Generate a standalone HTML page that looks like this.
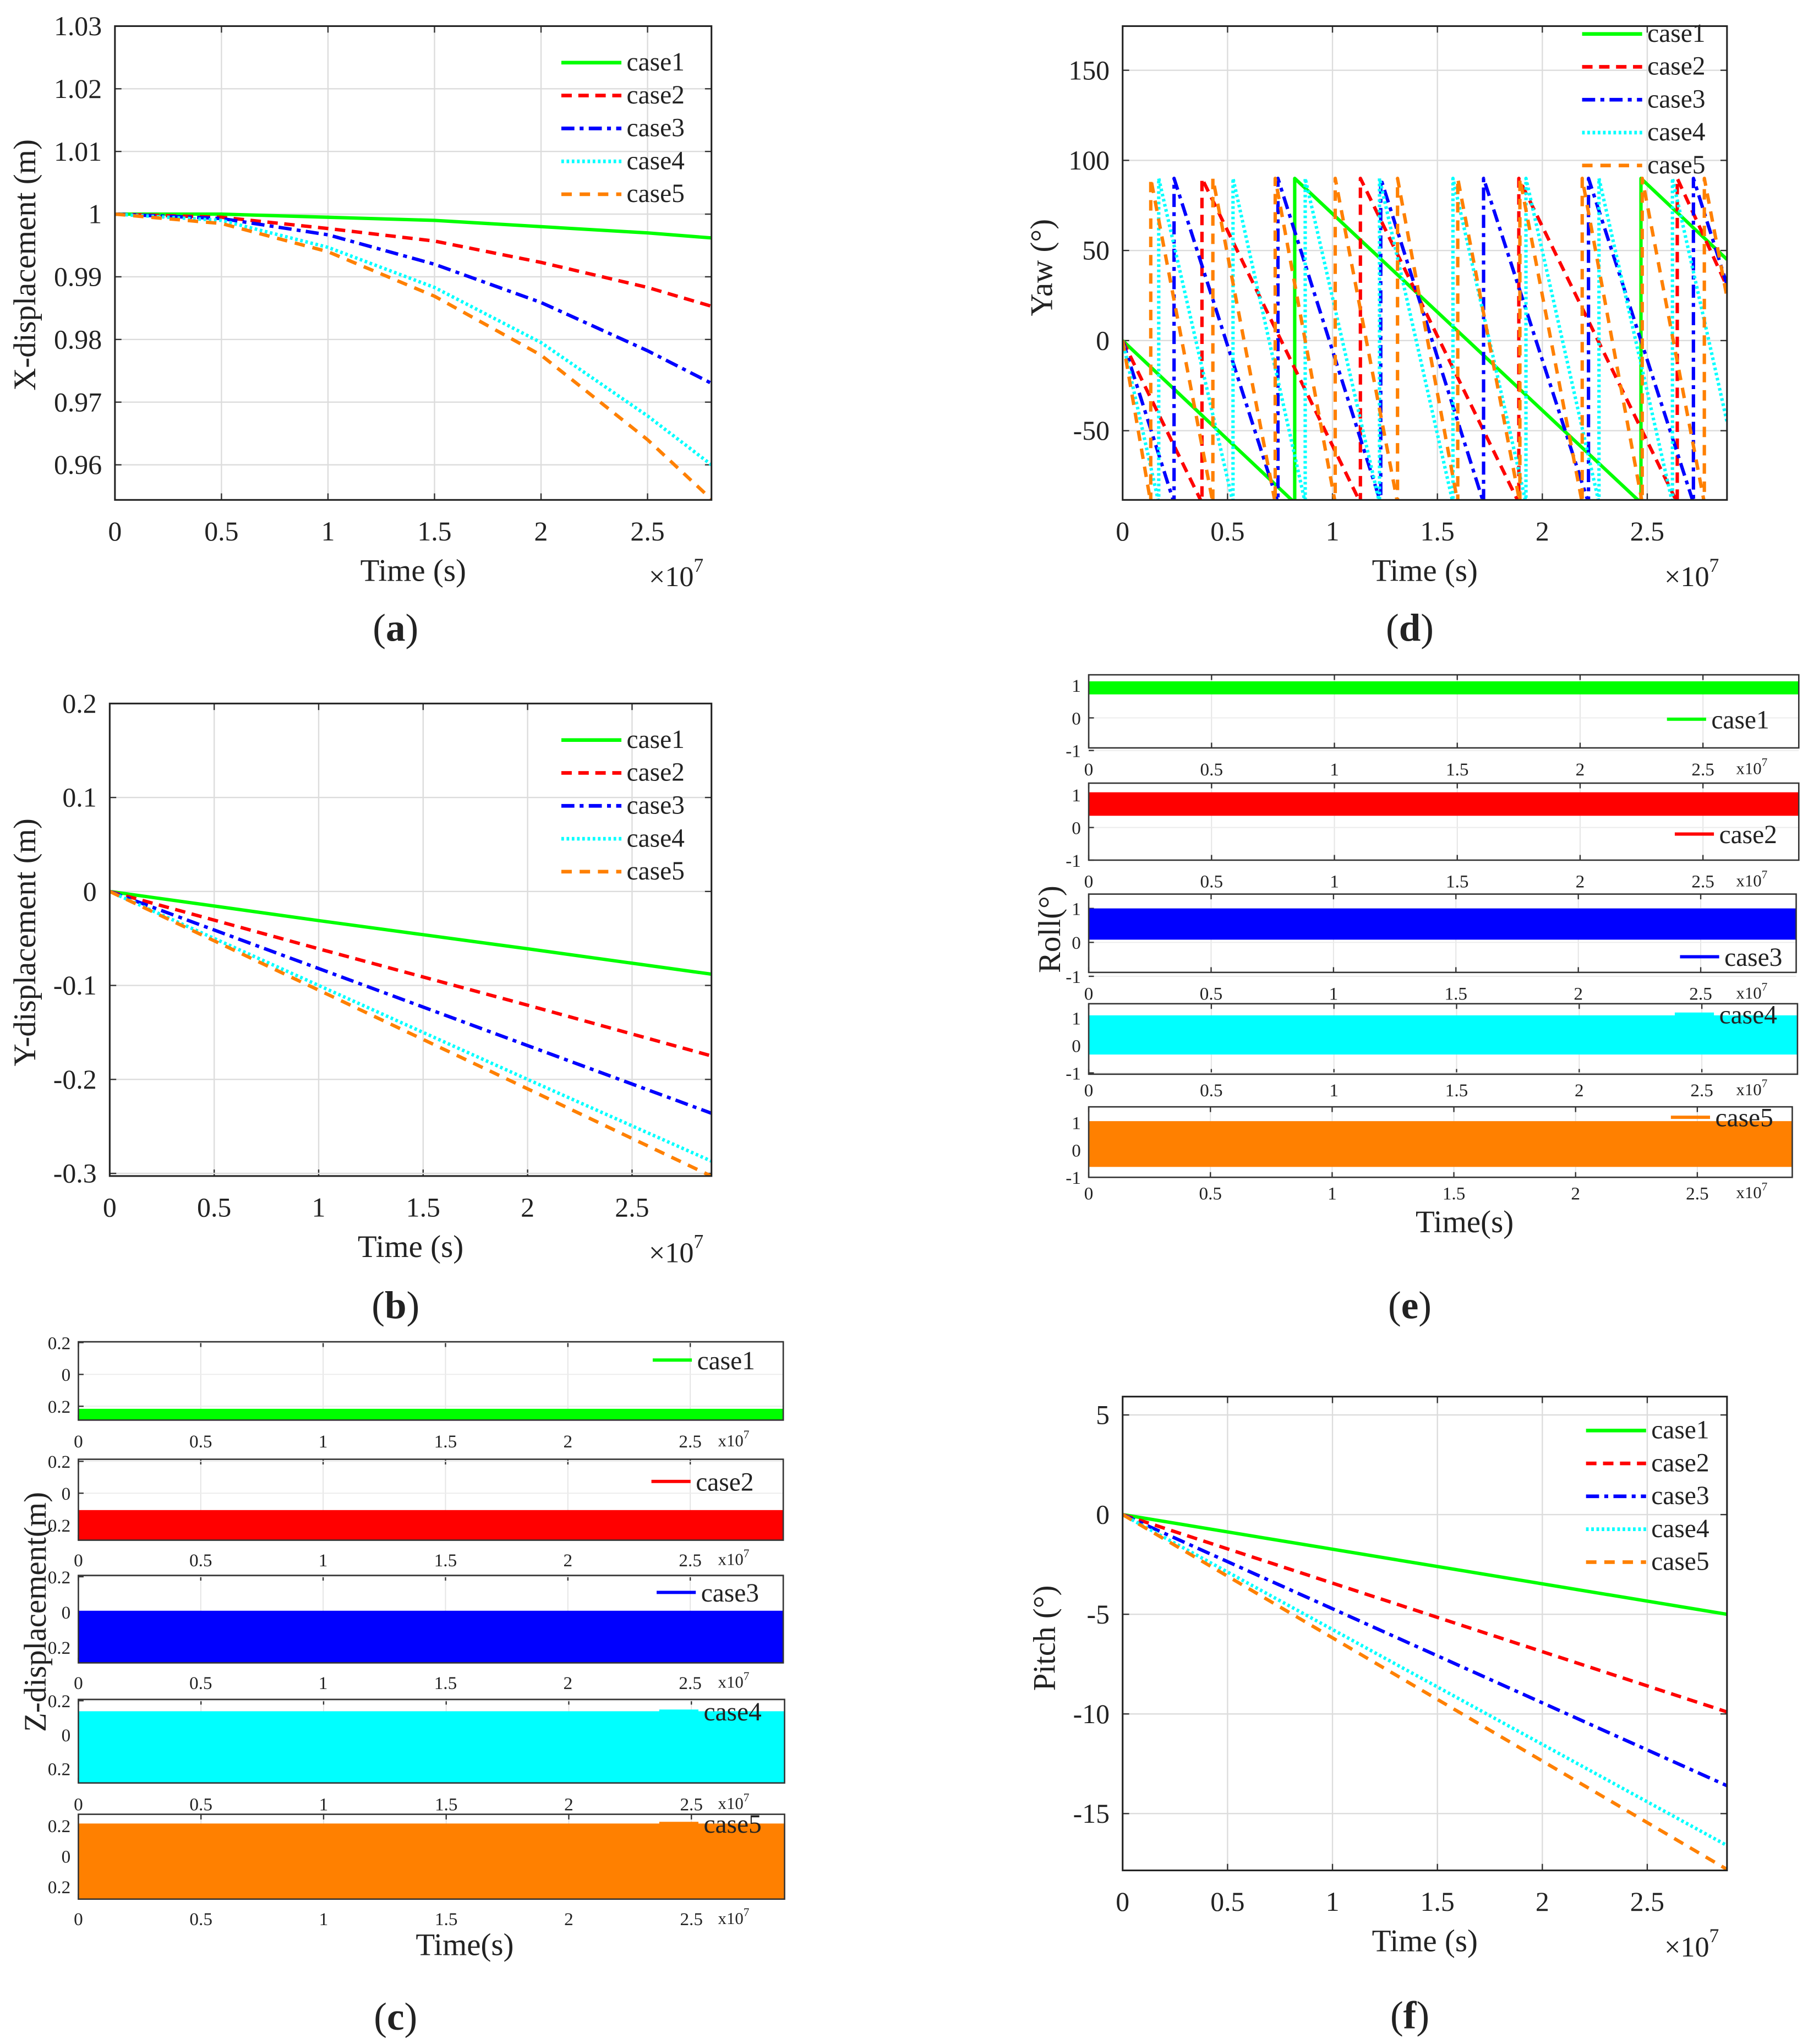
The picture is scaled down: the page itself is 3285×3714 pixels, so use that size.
<!DOCTYPE html>
<html><head><meta charset="utf-8">
<style>
html,body{margin:0;padding:0;background:#fff;}
svg{display:block;font-family:"Liberation Serif","DejaVu Serif",serif;}
text{font-family:"Liberation Serif","DejaVu Serif",serif;fill:#222;}
</style></head>
<body>
<svg id="fig" xmlns="http://www.w3.org/2000/svg" width="3285" height="3714" viewBox="0 0 1385 1566" font-family="Liberation Serif, DejaVu Serif, serif"></svg>
<script>
// ---------- data ----------
const caseNames = ["case1","case2","case3","case4","case5"];
const colors = ["#00ff00","#ff0000","#0000ff","#00ffff","#ff8000"];
const dashes = ["", "8,5", "10,4,3,4", "2,2", "8,6"];
const xTicks = [0,0.5,1,1.5,2,2.5];
const xTickLabels = ["0","0.5","1","1.5","2","2.5"];
// (a) X-displacement
const tA = [0,0.5,1,1.5,2,2.5,2.8];
const xA1 = [1,1,0.9995,0.999,0.998,0.997,0.9962];
const xA2 = [1,0.9995,0.9977,0.9957,0.9923,0.9883,0.9853];
const xA3 = [1,0.9993,0.9967,0.992,0.9859,0.9782,0.973];
const xA4 = [1,0.999,0.9947,0.9883,0.9795,0.9678,0.960];
const xA5 = [1,0.9985,0.994,0.9869,0.9775,0.964,0.9545];
const yTicksA = [1.03,1.02,1.01,1,0.99,0.98,0.97,0.96];
const yTickLabelsA = ["1.03","1.02","1.01","1","0.99","0.98","0.97","0.96"];
// (b) Y-displacement
const tB = [0,1,2,2.88];
const yB1 = [0,-0.031,-0.061,-0.088];
const yB2 = [0,-0.061,-0.121,-0.175];
const yB3 = [0,-0.082,-0.164,-0.236];
const yB4 = [0,-0.100,-0.200,-0.287];
const yB5 = [0,-0.105,-0.210,-0.303];
const yTicksB = [0.2,0.1,0,-0.1,-0.2,-0.3];
const yTickLabelsB = ["0.2","0.1","0","-0.1","-0.2","-0.3"];
// (d) Yaw: reset times (wrap from -90 to 90) and final value
const yawJumps1 = [0.82,2.47];
const yawJumps2 = [0.378,1.133,1.888,2.643];
const yawJumps3 = [0.245,0.74,1.23,1.72,2.22,2.72];
const yawJumps4 = [0.172,0.526,0.870,1.224,1.574,1.922,2.270,2.62];
const yawJumps5 = [0.134,0.430,0.727,1.013,1.310,1.597,1.893,2.19,2.476,2.772];
const yawEnd = [45,30,31,-45,24];
const yTicksD = [150,100,50,0,-50];
const yTickLabelsD = ["150","100","50","0","-50"];
// (f) Pitch
const tF = [0,2.88];
const pF1 = [0,-5.0];
const pF2 = [0,-9.9];
const pF3 = [0,-13.6];
const pF4 = [0,-16.6];
const pF5 = [0,-17.8];
const yTicksF = [5,0,-5,-10,-15];
const yTickLabelsF = ["5","0","-5","-10","-15"];
// (e) Roll bands [low, high]
const rollLow = [0.72,0.36,0.08,-0.33,-0.62];
const rollHigh = [1.12,1.08,1.0,1.1,1.05];
// (c) Z bands
const zLow = [-0.30,-0.294,-0.29,-0.285,-0.28];
const zHigh = [-0.216,-0.106,0.007,0.138,0.213];

// ---------- helpers ----------
const NS="http://www.w3.org/2000/svg";
const svg=document.getElementById('fig');
function mk(tag,attrs,parent){const e=document.createElementNS(NS,tag);for(const k in attrs)e.setAttribute(k,attrs[k]);(parent||svg).appendChild(e);return e;}
function txt(s,x,y,size,anchor,parent,extra){const e=mk('text',Object.assign({x:x,y:y,'font-size':size,'text-anchor':anchor||'middle','font-family':'Liberation Serif, DejaVu Serif, serif'},extra||{}),parent);e.textContent=s;return e;}
let clipId=0;

function axesPlot(P){
  const g=mk('g',{});
  
  
  const sx=v=>P.x0+(v-0)/(P.xmax)*(P.x1-P.x0);
  const sy=v=>P.y1-(v-P.ymin)/(P.ymax-P.ymin)*(P.y1-P.y0);
  const id='c'+(clipId++);
  const cp=mk('clipPath',{id:id},g);mk('rect',{x:P.x0,y:P.y0,width:P.x1-P.x0,height:P.y1-P.y0},cp);
  mk('rect',{x:P.x0,y:P.y0,width:P.x1-P.x0,height:P.y1-P.y0,fill:'#fff'},g);
  xTicks.forEach((t,i)=>{
    const gl=mk('line',{x1:sx(t),x2:sx(t),y1:P.y0,y2:P.y1,stroke:'#dcdcdc','stroke-width':1},g);
    
    
    mk('line',{x1:sx(t),x2:sx(t),y1:P.y1,y2:P.y1-5,stroke:'#333','stroke-width':1},g);
    mk('line',{x1:sx(t),x2:sx(t),y1:P.y0,y2:P.y0+5,stroke:'#333','stroke-width':1},g);
    const tl=txt(xTickLabels[i],sx(t),P.y1+31,21,'middle',g);
    
    
  });
  P.yticks.forEach((v,i)=>{
    const gl=mk('line',{x1:P.x0,x2:P.x1,y1:sy(v),y2:sy(v),stroke:'#dcdcdc','stroke-width':1},g);
    
    
    mk('line',{x1:P.x0,x2:P.x0+5,y1:sy(v),y2:sy(v),stroke:'#333','stroke-width':1},g);
    mk('line',{x1:P.x1,x2:P.x1-5,y1:sy(v),y2:sy(v),stroke:'#333','stroke-width':1},g);
    const tl=txt(P.ylabels[i],P.x0-10,sy(v)+7,21,'end',g);
    
    
  });
  const sg=mk('g',{'clip-path':'url(#'+id+')'},g);
  P.series.forEach((s,k)=>{
    const pts=s.map(p=>sx(p[0]).toFixed(2)+','+sy(p[1]).toFixed(2)).join(' ');
    const pl=mk('polyline',{points:pts,fill:'none',stroke:colors[k],'stroke-width':2.6,'stroke-dasharray':dashes[k],'stroke-linejoin':'round'},sg);
    
    
  });
  const box=mk('rect',{x:P.x0,y:P.y0,width:P.x1-P.x0,height:P.y1-P.y0,fill:'none',stroke:'#222','stroke-width':1.3},g);
  
  
  caseNames.forEach((c,k)=>{
    const y=P.legY+k*25.2;
    const ll=mk('line',{x1:P.legX,x2:P.legX+46,y1:y,y2:y,stroke:colors[k],'stroke-width':2.8,'stroke-dasharray':dashes[k]},g);
    
    
    const lt=txt(c,P.legX+50,y+6,20,'start',g);
    
    
  });
  const xl=txt('Time (s)',(P.x0+P.x1)/2+(P.xlOff||0),P.y1+62,24,'middle',g);
  
  
  const mul=mk('text',{x:P.x1-48,y:P.y1+66,'font-size':22,'font-family':'Liberation Serif, serif'},g);
  mul.textContent='\u00d710';
  const sup=mk('tspan',{dy:-11,'font-size':15},mul);sup.textContent='7';
  
  
  const yl=txt(P.ytitle,0,0,24,'middle',g,{transform:'translate('+P.ytx+','+P.yty+') rotate(-90)'});
  
  
  const pl=mk('text',{x:P.letX,y:P.letY,'font-size':30,'text-anchor':'middle','font-family':'Liberation Serif, serif'},g);
  pl.innerHTML='(<tspan font-weight="bold">'+P.letter+'</tspan>)';
  
  
}
function zip(t,v){return t.map((x,i)=>[x,v[i]]);}
function yawSeries(j,end,xmax){
  const pts=[[0,0],[j[0],-90]];
  for(let i=0;i<j.length;i++){
    pts.push([j[i],90]);
    if(i+1<j.length)pts.push([j[i+1],-90]);else pts.push([xmax,end]);
  }
  return pts;
}

axesPlot({name:'panel-a-x-displacement',x0:88,x1:545,y0:20,y1:383,xmax:2.8,ymin:0.9544,ymax:1.03,
  yticks:yTicksA,ylabels:yTickLabelsA,series:[zip(tA,xA1),zip(tA,xA2),zip(tA,xA3),zip(tA,xA4),zip(tA,xA5)],
  legX:430,legY:48,ytitle:'X-displacement (m)',ytx:27,yty:203,letter:'a',letX:303,letY:491});
axesPlot({name:'panel-b-y-displacement',x0:84,x1:545,y0:539,y1:901,xmax:2.88,ymin:-0.3028,ymax:0.2,
  yticks:yTicksB,ylabels:yTickLabelsB,series:[zip(tB,yB1),zip(tB,yB2),zip(tB,yB3),zip(tB,yB4),zip(tB,yB5)],
  legX:430,legY:567,ytitle:'Y-displacement (m)',ytx:27,yty:722,letter:'b',letX:303,letY:1010});
axesPlot({name:'panel-d-yaw',x0:860,x1:1323,y0:20,y1:383,xmax:2.88,ymin:-88.4,ymax:174.5,
  yticks:yTicksD,ylabels:yTickLabelsD,series:[yawSeries(yawJumps1,yawEnd[0],2.88),yawSeries(yawJumps2,yawEnd[1],2.88),yawSeries(yawJumps3,yawEnd[2],2.88),yawSeries(yawJumps4,yawEnd[3],2.88),yawSeries(yawJumps5,yawEnd[4],2.88)],
  legX:1212,legY:26,ytitle:'Yaw (°)',ytx:806,yty:205,letter:'d',letX:1080,letY:491});
axesPlot({name:'panel-f-pitch',x0:860,x1:1323,y0:1070,y1:1433,xmax:2.88,ymin:-17.85,ymax:5.92,
  yticks:yTicksF,ylabels:yTickLabelsF,series:[zip(tF,pF1),zip(tF,pF2),zip(tF,pF3),zip(tF,pF4),zip(tF,pF5)],
  legX:1215,legY:1096,ytitle:'Pitch (°)',ytx:808,yty:1255,letter:'f',letX:1080,letY:1554});

function stacked(S){
  const g=mk('g',{});
  
  
  S.subs.forEach((b,k)=>{
    const sg=mk('g',{},g);
    
    
    const sx=v=>S.x0+v/S.xmax*(b.x1-S.x0);
    const sy=v=>b.yz-v*b.ppu;
    mk('rect',{x:S.x0,y:b.top,width:b.x1-S.x0,height:b.bot-b.top,fill:'#fff'},sg);
    xTicks.forEach((t,i)=>{
      mk('line',{x1:sx(t),x2:sx(t),y1:b.top,y2:b.bot,stroke:'#e4e4e4','stroke-width':0.8},sg);
      mk('line',{x1:sx(t),x2:sx(t),y1:b.top,y2:b.top+4,stroke:'#333','stroke-width':1},sg);
      mk('line',{x1:sx(t),x2:sx(t),y1:b.bot,y2:b.bot-4,stroke:'#333','stroke-width':1},sg);
      const tl=txt(xTickLabels[i],sx(t),b.lab+5,14,'middle',sg);
      
      
    });
    const mul=mk('text',{x:S.x0+S.mulOff,y:b.lab+4,'font-size':13,'font-family':'Liberation Serif, serif'},sg);
    mul.textContent='x10';const sp=mk('tspan',{dy:-6,'font-size':9},mul);sp.textContent='7';
    
    
    S.yv.forEach((v,i)=>{
      mk('line',{x1:S.x0,x2:b.x1,y1:sy(v),y2:sy(v),stroke:'#ececec','stroke-width':0.8},sg);
      mk('line',{x1:S.x0,x2:S.x0+4,y1:sy(v),y2:sy(v),stroke:'#333','stroke-width':1},sg);
      const tl=txt(S.yl[i],S.x0-6,sy(v)+5,14,'end',sg);
      
      
    });
    const lo=Math.min(b.bot,sy(S.low[k])),hi=Math.max(b.top,sy(S.high[k]));
    const band=mk('rect',{x:S.x0,y:hi,width:b.x1-S.x0,height:lo-hi,fill:colors[k]},sg);
    
    
    const box=mk('rect',{x:S.x0,y:b.top,width:b.x1-S.x0,height:b.bot-b.top,fill:'none',stroke:'#333','stroke-width':1.1},sg);
    
    
    const ll=mk('line',{x1:b.lx,x2:b.lx+30,y1:b.ly,y2:b.ly,stroke:colors[k],'stroke-width':2.5},sg);
    
    
    const lt=txt(caseNames[k],b.lx+34,b.ly+7,20,'start',sg);
    
    
  });
  const xl=txt('Time(s)',S.tx,S.ty,24,'middle',g);
  
  
  const yl=txt(S.ytitle,0,0,24,'middle',g,{transform:'translate('+S.ytx+','+S.yty+') rotate(-90)'});
  
  
  const pl=mk('text',{x:S.letX,y:S.letY,'font-size':30,'text-anchor':'middle','font-family':'Liberation Serif, serif'},g);
  pl.innerHTML='(<tspan font-weight="bold">'+S.letter+'</tspan>)';
  
  
}
stacked({name:'panel-e-roll',x0:834,xmax:2.89,mulOff:496,yv:[1,0,-1],yl:['1','0','-1'],low:rollLow,high:rollHigh,
  subs:[{top:517,bot:573,x1:1378,yz:550,ppu:25,lab:589,lx:1277,ly:551},
        {top:600,bot:659,x1:1378,yz:634,ppu:25,lab:675,lx:1283,ly:639},
        {top:685,bot:745,x1:1376,yz:722,ppu:26,lab:761,lx:1287,ly:733},
        {top:769,bot:823,x1:1377,yz:801,ppu:21,lab:835,lx:1283,ly:777},
        {top:848,bot:902,x1:1373,yz:881,ppu:21,lab:914,lx:1280,ly:856}],
  tx:1122,ty:944,ytitle:'Roll(°)',ytx:812,yty:712,letter:'e',letX:1080,letY:1010});
stacked({name:'panel-c-z-displacement',x0:60,xmax:2.88,mulOff:490,yv:[0.2,0,-0.2],yl:['0.2','0','0.2'],low:zLow,high:zHigh,
  subs:[{top:1028,bot:1088,x1:600,yz:1053,ppu:122,lab:1104,lx:500,ly:1042},
        {top:1118,bot:1180,x1:600,yz:1144,ppu:122,lab:1195,lx:499,ly:1135},
        {top:1207,bot:1274,x1:600,yz:1235,ppu:135,lab:1289,lx:503,ly:1220},
        {top:1302,bot:1366,x1:601,yz:1329,ppu:130,lab:1382,lx:505,ly:1311},
        {top:1390,bot:1455,x1:601,yz:1422,ppu:117,lab:1470,lx:505,ly:1397}],
  tx:356,ty:1498,ytitle:'Z-displacement(m)',ytx:35,yty:1235,letter:'c',letX:303,letY:1555});
</script>
</body></html>
